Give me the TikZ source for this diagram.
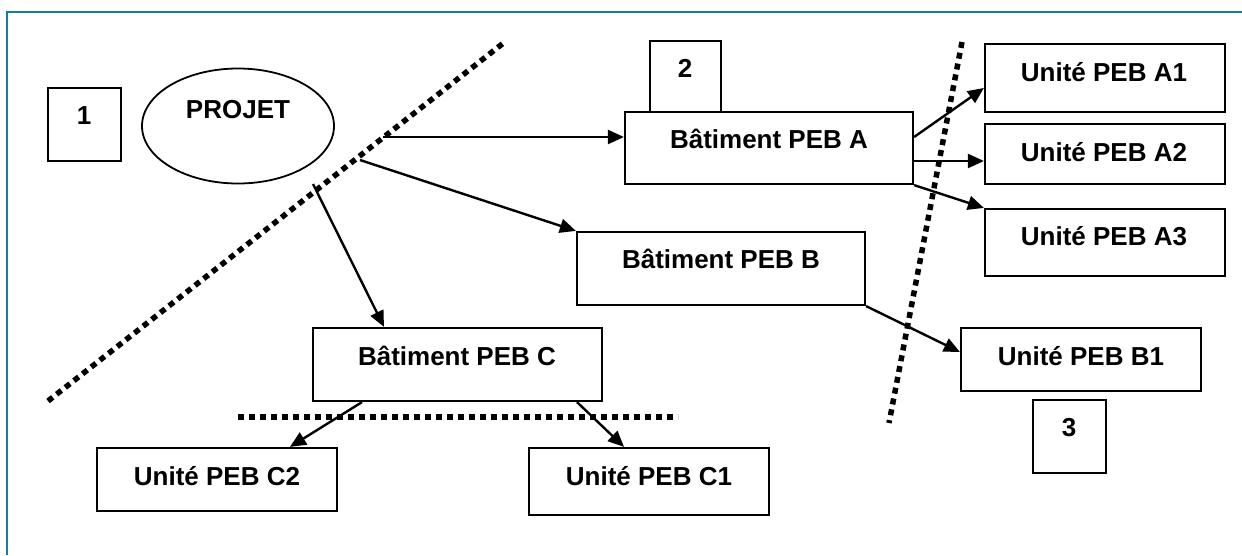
\documentclass[tikz,border=0pt]{standalone}
\usepackage{fontspec}
\setmainfont{Liberation Sans}
\usetikzlibrary{arrows.meta,shapes.geometric}
\definecolor{frameteal}{RGB}{20,125,160}
\tikzset{
  box/.style={draw, line width=2.2pt, inner sep=0pt, fill=white},
  lbl/.style={font=\fontsize{26}{30}\selectfont\bfseries, inner sep=0pt},
  conn/.style={line width=2.4pt, -{Triangle[length=16pt,width=14pt]}},
  sep/.style={line width=5.5pt, dash pattern=on 6pt off 5pt},
}
\begin{document}
\begin{tikzpicture}[x=1pt,y=-1pt]
\useasboundingbox (0,0) rectangle (1242,555);
% frame
\draw[frameteal, line width=1.5pt] (7,555) -- (7,12) -- (1242,12);

% separators
\draw[sep] (48,401) -- (506,41);
\draw[sep] (238,417) -- (678,417);
\draw[sep] (962,42) -- (889,423);

% boxes
\node[box, minimum width=73pt, minimum height=73pt] (n1) at (84.5,124.5) {};
\node[lbl] (t1) at (84,116) {1};
\node[draw, line width=1.8pt, ellipse, minimum width=192pt, minimum height=115pt, inner sep=0pt, fill=white] (projet) at (238,126) {};
\node[lbl] (tprojet) at (238,110) {PROJET};

\node[box, minimum width=288pt, minimum height=72pt] (batA) at (769,148) {};
\node[box, minimum width=71pt, minimum height=71pt] (n2) at (685.5,76.5) {};
\node[lbl] (t2) at (685,68) {2};
\node[lbl] (tbatA) at (769,139) {Bâtiment PEB A};

\node[box, minimum width=240pt, minimum height=68pt] (A1) at (1105,78) {};
\node[lbl] (tA1) at (1104,72) {Unité PEB A1};
\node[box, minimum width=240pt, minimum height=60pt] (A2) at (1105,154) {};
\node[lbl] (tA2) at (1104,152) {Unité PEB A2};
\node[box, minimum width=240pt, minimum height=67pt] (A3) at (1105,242.5) {};
\node[lbl] (tA3) at (1104,236) {Unité PEB A3};

\node[box, minimum width=288pt, minimum height=73pt] (batB) at (721,268.5) {};
\node[lbl] (tbatB) at (721,259) {Bâtiment PEB B};

\node[box, minimum width=289pt, minimum height=73pt] (batC) at (457.5,364.5) {};
\node[lbl] (tbatC) at (457,356) {Bâtiment PEB C};

\node[box, minimum width=240pt, minimum height=63pt] (C2) at (217,479.5) {};
\node[lbl] (tC2) at (217,476) {Unité PEB C2};
\node[box, minimum width=240pt, minimum height=67pt] (C1) at (649,481.5) {};
\node[lbl] (tC1) at (649,476) {Unité PEB C1};

\node[box, minimum width=240pt, minimum height=63pt] (B1) at (1081,359.5) {};
\node[lbl] (tB1) at (1081,356) {Unité PEB B1};
\node[box, minimum width=73pt, minimum height=73pt] (n3) at (1069.5,436.5) {};
\node[lbl] (t3) at (1069,428) {3};

% connector free ends
\coordinate (s1) at (383,137);
\coordinate (s2) at (360,160);
\coordinate (s3) at (313,184);

% connectors
\draw[conn] (s1) -- (s1 -| batA.west);
\draw[conn] (s2) -- (batB.north west);
\draw[conn] (s3) -- ([xshift=-73.5pt]batC.north);
\draw[conn] ([yshift=11pt]batA.east) -- ([yshift=-10pt]A1.west);
\draw[conn] ([yshift=-13pt]batA.east) -- ([yshift=-7pt]A2.west);
\draw[conn] (batA.south east) -- (A3.north west);
\draw[conn] (batB.south east) -- ([yshift=7.5pt]B1.west);
\draw[conn] ([xshift=-95.5pt]batC.south) -- ([xshift=73pt]C2.north);
\draw[conn] ([xshift=119.5pt]batC.south) -- ([xshift=-25pt]C1.north);
\end{tikzpicture}
\end{document}
